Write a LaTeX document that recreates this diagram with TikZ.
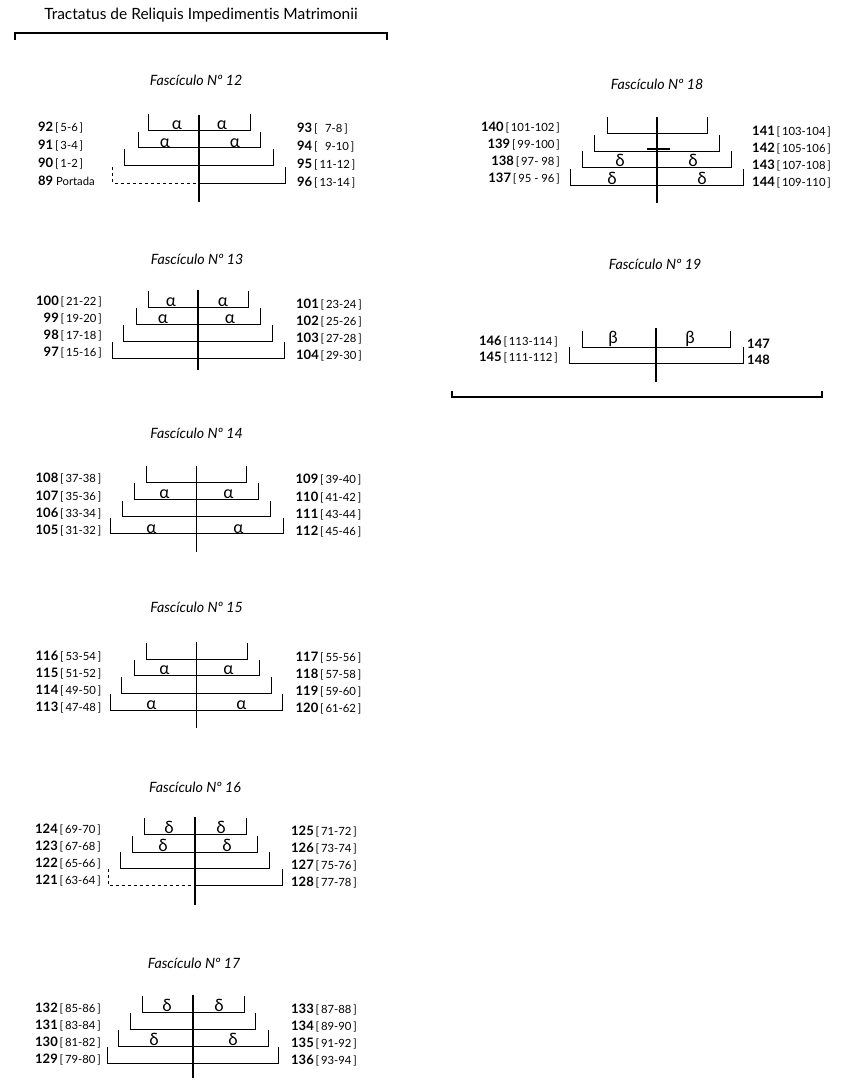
\documentclass[tikz,border=0pt]{standalone}
\usepackage{fontspec}
\setmainfont{Lato}[Ligatures=NoCommon]
\newcommand{\fol}[2]{{\fontsize{13}{13}\selectfont\bfseries #1}\,[\,#2\,]}
\begin{document}
\begin{tikzpicture}[x=1pt,y=-1pt,
  fold/.style={line width=0.9pt},
  spine/.style={line width=1.2pt},
  rule/.style={line width=1.8pt},
  ftitle/.style={font=\itshape\fontsize{14.2}{15}\selectfont},
  leaf/.style={font=\fontsize{11.3}{12}\selectfont,inner sep=0pt},
  greek/.style={font=\fontsize{17}{17}\selectfont,inner sep=0.2pt,anchor=south}]
  \useasboundingbox (0,0) rectangle (862,1081);
  % Heading and its rule
  \node[font=\fontsize{15.5}{17}\selectfont] (head) at (201,15) {Tractatus de Reliquis Impedimentis Matrimonii};
  \draw[rule] (15,40) |- (387,33) -- (387,40);
  % Fasciculo 12
  \begin{scope}[shift={(199,130)}]
    \node[ftitle] (f12) at (-3,-50) {Fascículo Nº 12};
    \draw[spine] (0,-15) -- (0,72);
    \foreach \w/\y in {51/0, 61/17.7, 74.5/35.4}
      \draw[fold] (-\w,\y-16) |- (\w,\y) -- (\w,\y-16);
    \draw[fold,dashed] (-86.5,37) |- (0,53);
    \draw[fold] (0,53) -| (86.5,37);
    \foreach \x/\y in {-22/0, 23/0, -34/17.7, 36/17.7}
      \node[greek] at (\x,\y) {α};
    \foreach \n/\p [count=\k from 0] in {92/5-6, 91/3-4, 90/1-2}
      \node[leaf,anchor=west] (l\n) at (-161,\k*17.7-2) {\fol{\n}{\p}};
    \node[leaf,anchor=west] (l89) at (-161,51) {{\fontsize{13}{13}\selectfont\bfseries 89} Portada};
    \foreach \n/\p [count=\k from 0] in {93/{\enspace 7-8}, 94/{\enspace 9-10}, 95/11-12, 96/13-14}
      \node[leaf,anchor=west] (r\n) at (98,\k*17.7-1) {\fol{\n}{\p}};
  \end{scope}
  % Fasciculo 13
  \begin{scope}[shift={(198,307)}]
    \node[ftitle] (f13) at (-1,-48) {Fascículo Nº 13};
    \draw[spine] (0,-17) -- (0,63);
    \foreach \w/\y in {50/0, 62/17, 74.5/34, 86/51}
      \draw[fold] (-\w,\y-16) |- (\w,\y) -- (\w,\y-16);
    \foreach \x/\y in {-27/0, 25/0, -35/17, 32/17}
      \node[greek] at (\x,\y) {α};
    \foreach \n/\p [count=\k from 0] in {100/21-22, 99/19-20, 98/17-18, 97/15-16}
      \node[leaf,anchor=east] (l\n) at (-96,\k*17-5) {\fol{\n}{\p}};
    \foreach \n/\p [count=\k from 0] in {101/23-24, 102/25-26, 103/27-28, 104/29-30}
      \node[leaf,anchor=west] (r\n) at (98,\k*17-2) {\fol{\n}{\p}};
  \end{scope}
  % Fasciculo 14
  \begin{scope}[shift={(196.5,482)}]
    \node[ftitle] (f14) at (0,-49) {Fascículo Nº 14};
    \draw[spine] (0,-16) -- (0,70);
    \foreach \w/\y in {50/0, 62/17.3, 74/34.6, 86.5/51.9}
      \draw[fold] (-\w,\y-16) |- (\w,\y) -- (\w,\y-16);
    \foreach \x/\y in {-32/17.3, 32/17.3, -45/51.9, 42/51.9}
      \node[greek] at (\x,\y) {α};
    \foreach \n/\p [count=\k from 0] in {108/37-38, 107/35-36, 106/33-34, 105/31-32}
      \node[leaf,anchor=east] (l\n) at (-95,\k*17.3-3) {\fol{\n}{\p}};
    \foreach \n/\p [count=\k from 0] in {109/39-40, 110/41-42, 111/43-44, 112/45-46}
      \node[leaf,anchor=west] (r\n) at (99,\k*17.3-2) {\fol{\n}{\p}};
  \end{scope}
  % Fasciculo 15
  \begin{scope}[shift={(196.5,659)}]
    \node[ftitle] (f15) at (0,-52) {Fascículo Nº 15};
    \draw[spine] (0,-17) -- (0,69);
    \foreach \w/\y in {50.5/0, 62.5/16.5, 75/34, 86/51}
      \draw[fold] (-\w,\y-16) |- (\w,\y) -- (\w,\y-16);
    \foreach \x/\y in {-32/16.5, 32/16.5, -45/51, 45/51}
      \node[greek] at (\x,\y) {α};
    \foreach \n/\p [count=\k from 0] in {116/53-54, 115/51-52, 114/49-50, 113/47-48}
      \node[leaf,anchor=east] (l\n) at (-95,\k*17-2) {\fol{\n}{\p}};
    \foreach \n/\p [count=\k from 0] in {117/55-56, 118/57-58, 119/59-60, 120/61-62}
      \node[leaf,anchor=west] (r\n) at (99,\k*17-1) {\fol{\n}{\p}};
  \end{scope}
  % Fasciculo 16
  \begin{scope}[shift={(195,834)}]
    \node[ftitle] (f16) at (0,-47) {Fascículo Nº 16};
    \draw[spine] (0,-17) -- (0,71);
    \foreach \w/\y in {51/0, 62.5/18, 74.5/34}
      \draw[fold] (-\w,\y-16) |- (\w,\y) -- (\w,\y-16);
    \draw[fold,dashed] (-87,35) |- (0,51);
    \draw[fold] (0,51) -| (87,35);
    \foreach \x/\y in {-26/0, 26/0, -32/18, 32/18}
      \node[greek] at (\x,\y) {δ};
    \foreach \n/\p [count=\k from 0] in {124/69-70, 123/67-68, 122/65-66, 121/63-64}
      \node[leaf,anchor=east] (l\n) at (-94,\k*17-4) {\fol{\n}{\p}};
    \foreach \n/\p [count=\k from 0] in {125/71-72, 126/73-74, 127/75-76, 128/77-78}
      \node[leaf,anchor=west] (r\n) at (96,\k*17-2) {\fol{\n}{\p}};
  \end{scope}
  % Fasciculo 17
  \begin{scope}[shift={(193,1012)}]
    \node[ftitle] (f17) at (1,-49) {Fascículo Nº 17};
    \draw[spine] (0,-17) -- (0,66);
    \foreach \w/\y in {51/0, 62.5/17, 75/34, 85.5/51}
      \draw[fold] (-\w,\y-16) |- (\w,\y) -- (\w,\y-16);
    \foreach \x/\y in {-26/0, 26/0, -39/34, 40/34}
      \node[greek] at (\x,\y) {δ};
    \foreach \n/\p [count=\k from 0] in {132/85-86, 131/83-84, 130/81-82, 129/79-80}
      \node[leaf,anchor=east] (l\n) at (-92,\k*17-3) {\fol{\n}{\p}};
    \foreach \n/\p [count=\k from 0] in {133/87-88, 134/89-90, 135/91-92, 136/93-94}
      \node[leaf,anchor=west] (r\n) at (98,\k*17-2) {\fol{\n}{\p}};
  \end{scope}
  % Fasciculo 18
  \begin{scope}[shift={(657,133)}]
    \node[ftitle] (f18) at (0,-49) {Fascículo Nº 18};
    \draw[spine] (0,-16) -- (0,70);
    \foreach \w/\y in {50/0, 62.5/18, 74.5/34, 86.5/52}
      \draw[fold] (-\w,\y-16) |- (\w,\y) -- (\w,\y-16);
    \draw[spine] (-10,16) -- (13,16);
    \foreach \x/\y in {-37/34, 36/34, -45/52, 45/52}
      \node[greek] at (\x,\y) {δ};
    \foreach \n/\p [count=\k from 0] in {140/101-102, 139/99-100, 138/{97- 98}, 137/{95 - 96}}
      \node[leaf,anchor=east] (l\n) at (-97,\k*17-5) {\fol{\n}{\p}};
    \foreach \n/\p [count=\k from 0] in {141/103-104, 142/105-106, 143/107-108, 144/109-110}
      \node[leaf,anchor=west] (r\n) at (95,\k*17-1) {\fol{\n}{\p}};
  \end{scope}
  % Fasciculo 19
  \begin{scope}[shift={(656,347)}]
    \node[ftitle] (f19) at (-1,-83) {Fascículo Nº 19};
    \draw[spine] (0,-19) -- (0,35);
    \foreach \w/\y in {74/0, 87/16}
      \draw[fold] (-\w,\y-16) |- (\w,\y) -- (\w,\y-16);
    \foreach \x/\y in {-43/0, 34/0}
      \node[greek] at (\x,\y) {β};
    \foreach \n/\p [count=\k from 0] in {146/113-114, 145/111-112}
      \node[leaf,anchor=east] (l\n) at (-98,\k*16-5) {\fol{\n}{\p}};
    \node[leaf,anchor=west,font=\fontsize{13}{13}\selectfont\bfseries] (r147) at (91,-3) {147};
    \node[leaf,anchor=west,font=\fontsize{13}{13}\selectfont\bfseries] (r148) at (91,13) {148};
  \end{scope}
  % closing rule
  \draw[rule] (452,391) |- (822,397) -- (822,391);
\end{tikzpicture}
\end{document}
